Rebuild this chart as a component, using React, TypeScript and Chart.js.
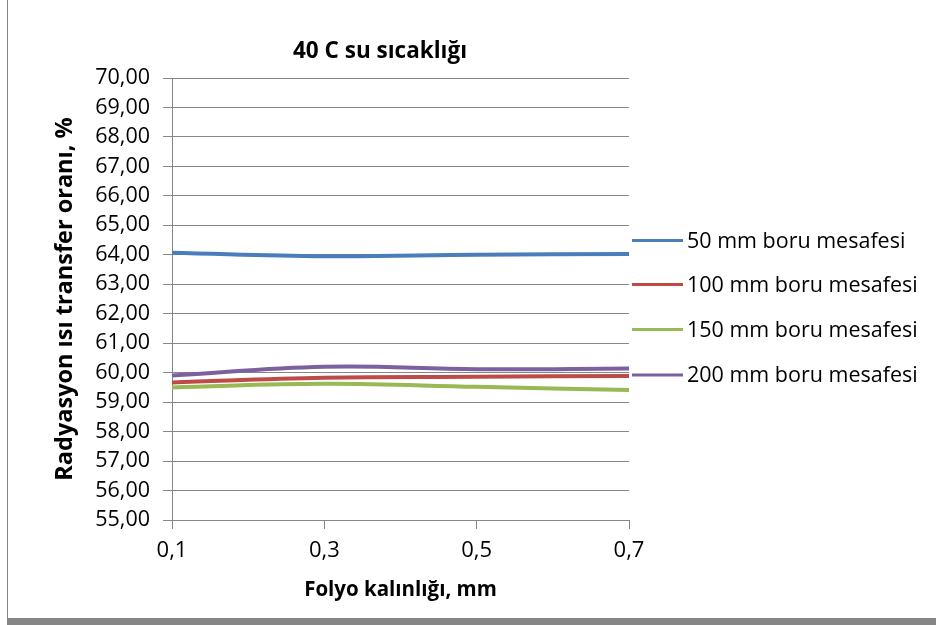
import React, { useEffect, useRef } from "react";
import { Chart, registerables } from "chart.js";

Chart.register(...registerables);

const TITLE = "40 C su sıcaklığı";
const X_TITLE = "Folyo kalınlığı, mm";
const Y_TITLE = "Radyasyon ısı transfer oranı, %";

const categories = ["0,1", "0,3", "0,5", "0,7"];
const seriesNames = [
  "50 mm boru mesafesi",
  "100 mm boru mesafesi",
  "150 mm boru mesafesi",
  "200 mm boru mesafesi",
];
const s50 = [64.07, 63.95, 64.0, 64.03];
const s100 = [59.67, 59.83, 59.86, 59.89];
const s150 = [59.5, 59.62, 59.52, 59.41];
const s200 = [59.9, 60.2, 60.12, 60.14];
const Y_MIN = 55;
const Y_MAX = 70;
const Y_STEP = 1;

const colors = ["#4A7EBB", "#BE4B48", "#98B954", "#7D60A0"];
const FONT = "'Open Sans', Lato, sans-serif";
const GRID = "#868686";

const overlayPlugin = {
  id: "overlay",
  afterDraw(chart: any) {
    const ctx = chart.ctx;
    ctx.save();
    // frame
    ctx.fillStyle = GRID;
    ctx.fillRect(7, 0, 1, 618);
    ctx.fillRect(7, 618, 929, 7);
    // title
    ctx.fillStyle = "#000";
    ctx.font = `bold 22.5px ${FONT}`;
    ctx.textAlign = "center";
    ctx.textBaseline = "middle";
    ctx.fillText(TITLE, 380, 52);
    // legend
    const ys = [240.5, 284.5, 329.5, 375];
    ctx.font = `21.5px ${FONT}`;
    ctx.textAlign = "left";
    chart.data.datasets.forEach((ds: any, i: number) => {
      ctx.fillStyle = ds.borderColor;
      ctx.fillRect(632, ys[i] - 1.5, 51, 3);
      ctx.fillStyle = "#000";
      ctx.fillText(ds.label, 687, ys[i] + 1);
    });
    ctx.restore();
  },
};

export default function App() {
  const ref = useRef<HTMLCanvasElement>(null);
  useEffect(() => {
    const series = [s50, s100, s150, s200];
    const chart = new Chart(ref.current!, {
      type: "line",
      data: {
        labels: categories,
        datasets: series.map((d, i) => ({
          label: seriesNames[i],
          data: d,
          borderColor: colors[i],
          backgroundColor: colors[i],
          borderWidth: 4,
          pointRadius: 0,
          tension: 0.4,
          fill: false,
        })),
      },
      options: {
        responsive: false,
        animation: false,
        layout: { padding: { top: 78, left: 0, right: 307, bottom: 0 } },
        plugins: {
          legend: { display: false },
          title: { display: false },
          tooltip: { enabled: false },
        },
        scales: {
          x: {
            offset: false,
            grid: {
              drawOnChartArea: false,
              drawTicks: true,
              tickLength: 9,
              color: GRID,
            },
            border: { display: true, color: GRID, width: 1 },
            ticks: {
              color: "#000",
              font: { family: FONT, size: 22 },
              padding: 9,
              maxRotation: 0,
            },
            title: {
              display: true,
              text: X_TITLE,
              color: "#000",
              font: { family: FONT, size: 20.5, weight: "bold" },
              padding: { top: 0, bottom: 23 },
            },
            afterFit(scale: any) {
              scale.height = 105;
            },
          },
          y: {
            min: Y_MIN,
            max: Y_MAX,
            grid: {
              drawTicks: true,
              tickLength: 9,
              color: GRID,
              lineWidth: 1,
            },
            border: { display: true, color: GRID, width: 1 },
            ticks: {
              stepSize: Y_STEP,
              color: "#000",
              font: { family: FONT, size: 21.5 },
              padding: 13,
              callback: (v: any) => Number(v).toFixed(2).replace(".", ","),
            },
            title: {
              display: true,
              text: Y_TITLE,
              color: "#000",
              font: { family: FONT, size: 23.5, weight: "bold" },
              padding: { top: 51, bottom: 0 },
              align: "center",
            },
            afterFit(scale: any) {
              scale.width = 172;
            },
          },
        },
      },
      plugins: [overlayPlugin],
    });
    return () => chart.destroy();
  }, []);
  return (
    <div style={{ position: "fixed", left: 0, top: 0, width: 936, height: 625, background: "#fff" }}>
      <canvas ref={ref} width={936} height={625} style={{ width: 936, height: 625, display: "block" }} />
    </div>
  );
}
